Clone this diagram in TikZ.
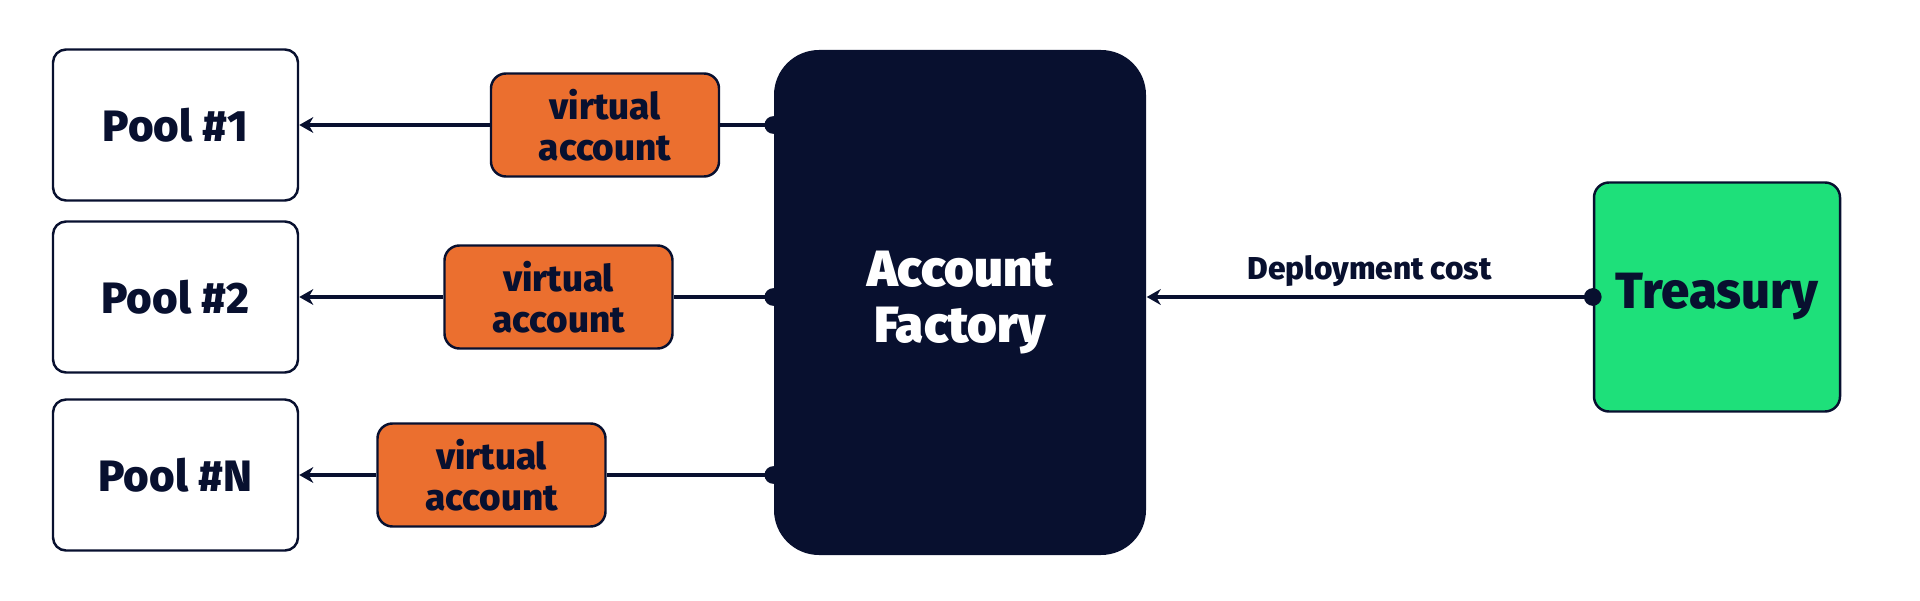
\documentclass[tikz,border=0pt]{standalone}
\usepackage{fontspec}
\setmainfont{Fira Sans}[BoldFont={* ExtraBold}]
\newfontfamily\heavyfont{Fira Sans}[UprightFont={* Black}]
\usetikzlibrary{arrows.meta}
\definecolor{navy}{HTML}{08102F}
\definecolor{vaorange}{HTML}{EB6F2F}
\definecolor{trgreen}{HTML}{1EE07A}

\begin{document}
\begin{tikzpicture}[
  pool node/.style={rectangle,rounded corners=0.13cm,draw=navy,line width=0.7pt,fill=white,minimum width=2.45cm,minimum height=1.51cm,font=\fontsize{12.5}{14}\selectfont\bfseries,text=navy},
  va node/.style={rectangle,rounded corners=0.15cm,draw=navy,line width=0.7pt,fill=vaorange,minimum width=2.28cm,minimum height=1.03cm,align=center,font=\fontsize{10.5}{11.5}\selectfont\bfseries,text=navy},
  factory node/.style={rectangle,rounded corners=0.45cm,fill=navy,minimum width=3.72cm,minimum height=5.05cm,align=center,font=\fontsize{14.5}{16}\selectfont\heavyfont,text=white},
  treasury node/.style={rectangle,rounded corners=0.15cm,draw=navy,line width=0.7pt,fill=trgreen,minimum width=2.46cm,minimum height=2.29cm,font=\fontsize{14.5}{16}\selectfont\bfseries,text=navy},
  dot link/.style={draw=navy,line width=1.1pt,{Circle[length=5pt]}-,shorten <=-2.5pt},
  arrow link/.style={draw=navy,line width=1.1pt,-{Stealth[length=4pt,width=4.5pt]}},
  dot arrow link/.style={draw=navy,line width=1.1pt,{Circle[length=5pt]}-{Stealth[length=4pt,width=4.5pt]},shorten <=-2.5pt}]

  \useasboundingbox (0,0) rectangle (19.2,6);

  \node[factory node] (F) at (9.6,2.975) {Account\\Factory};
  \node[treasury node] (T) at (17.17,3.03) {Treasury};

  \node[pool node] (P1) at (1.755,4.75) {Pool \#1};
  \node[pool node] (P2) at (1.755,3.03) {Pool \#2};
  \node[pool node] (PN) at (1.755,1.25) {Pool \#N};

  \node[va node] (V1) at (6.05,4.75) {virtual\\account};
  \node[va node] (V2) at (5.585,3.03) {virtual\\account};
  \node[va node] (VN) at (4.915,1.25) {virtual\\account};

  \path
       (V1 -| F.west) edge[dot link] (V1.east)
       (V2 -| F.west) edge[dot link] (V2.east)
       (VN -| F.west) edge[dot link] (VN.east);

  \path
       (V1.west) edge[arrow link] (P1.east)
       (V2.west) edge[arrow link] (P2.east)
       (VN.west) edge[arrow link] (PN.east);

  \path[every node/.style={font=\fontsize{9}{11}\selectfont\bfseries,text=navy}]
       (T.west) edge[dot arrow link] node[above=-1pt] {Deployment cost} (T -| F.east);
\end{tikzpicture}
\end{document}
